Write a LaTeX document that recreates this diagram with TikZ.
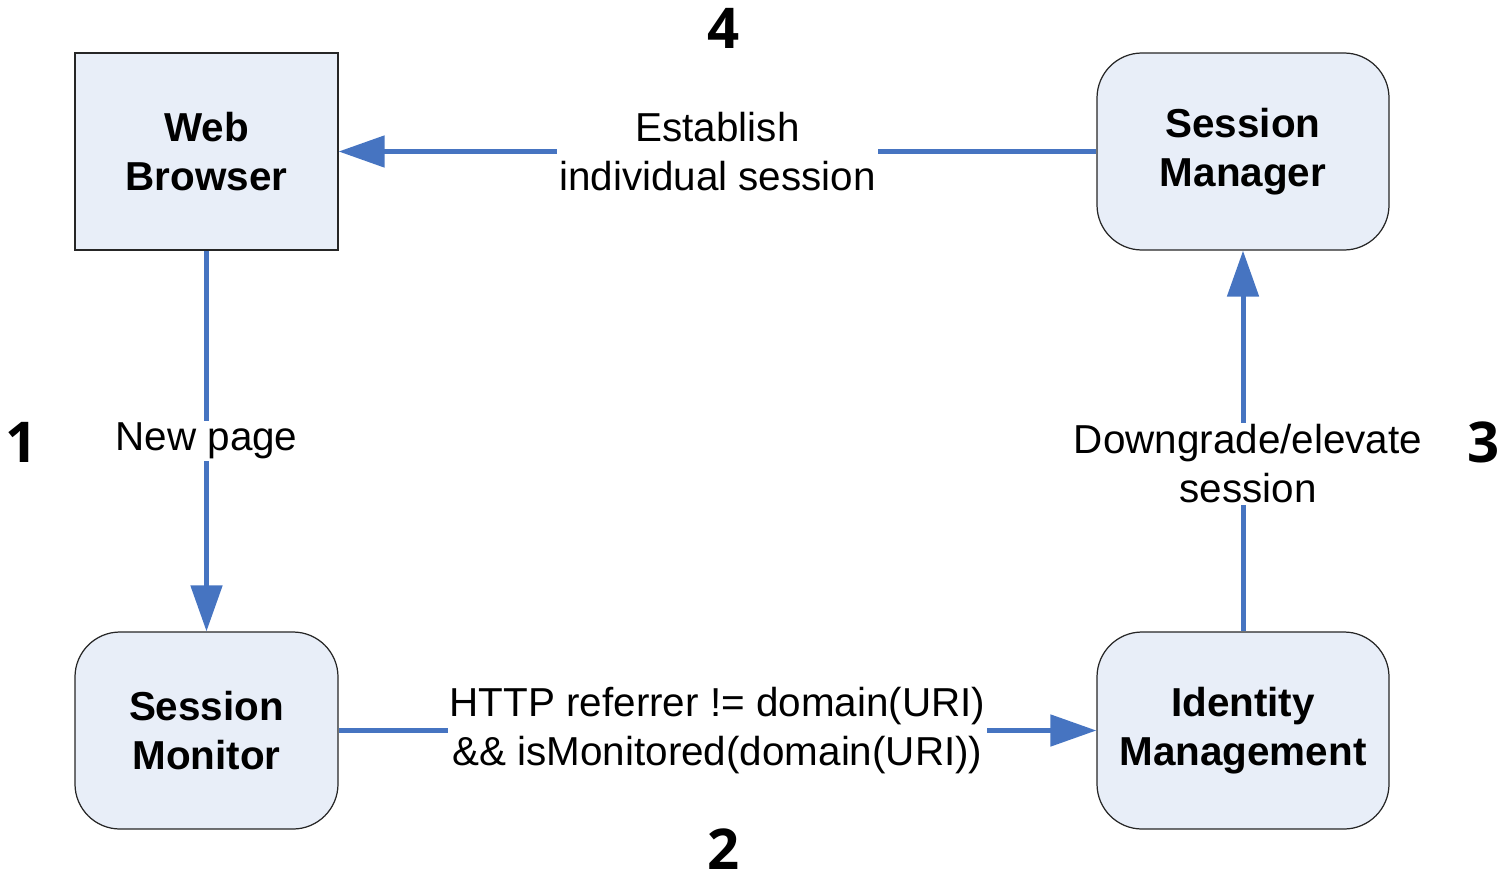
\documentclass[tikz,border=0pt]{standalone}
\usepackage{fontspec}
\setmainfont{Liberation Sans}
\newfontfamily\numfont{Open Sans}
\usepackage{xcolor}
\usetikzlibrary{arrows.meta,positioning,calc}
\definecolor{boxfill}{HTML}{E8EEF8}
\definecolor{flowblue}{HTML}{4674C1}
\begin{document}
\begin{tikzpicture}[
  font=\fontsize{23}{28}\selectfont,
  box/.style={draw=black!85, line width=0.7pt, fill=boxfill, align=center,
    minimum height=3.94cm, font=\fontsize{23}{28}\selectfont\bfseries},
  plainbox/.style={box, minimum width=5.26cm},
  roundbox/.style={box, rounded corners=0.9cm},
  lbl/.style={fill=white, text=black, inner sep=1pt, align=center},
  num/.style={inner sep=0pt, font=\fontsize{32}{36}\selectfont\numfont\bfseries},
  arr/.style={-{Triangle[length=0.92cm, width=0.62cm]}, line width=0.1cm, flowblue}
]
\useasboundingbox (0,0) rectangle (30.06,-17.64);
% ---------------- boxes
\node[plainbox] (browser) at (4.13,-3.03) {Web\\Browser};
\node[roundbox, minimum width=5.26cm] (monitor) at (4.13,-14.61) {Session\\Monitor};
\node[roundbox, minimum width=5.84cm] (identity) at (24.86,-14.61) {Identity\\Management};
\node[roundbox, minimum width=5.84cm] (manager) at (24.86,-3.03) {Session\\Manager};
% ---------------- step numbers
\node[num] (n1) at (0.44,-8.84) {1};
\node[num] (n2) at (14.48,-16.98) {2};
\node[num] (n3) at (29.68,-8.84) {3};
\node[num] (n4) at (14.48,-0.56) {4};
% ---------------- arrows
\draw[arr] (browser) -- node[lbl] {New page} (monitor);
\draw[arr] (monitor) -- node[lbl] {HTTP referrer != domain(URI)\\\&\& isMonitored(domain(URI))} (identity);
\draw[arr] (identity) -- node[lbl, pos=0.44, xshift=0.1cm] {Downgrade/elevate\\session} (manager);
\draw[arr] (manager) -- node[lbl] {Establish\\individual session} (browser);
\end{tikzpicture}
\end{document}
